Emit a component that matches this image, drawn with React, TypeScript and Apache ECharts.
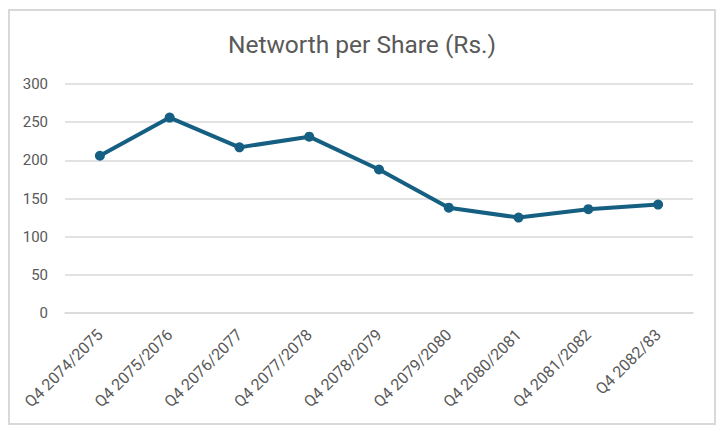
import React, { useEffect, useRef } from "react";
import * as echarts from "echarts";

const categories = [
  "Q4 2074/2075",
  "Q4 2075/2076",
  "Q4 2076/2077",
  "Q4 2077/2078",
  "Q4 2078/2079",
  "Q4 2079/2080",
  "Q4 2080/2081",
  "Q4 2081/2082",
  "Q4 2082/83",
];
const networth = [206, 256, 217, 231, 188, 138, 125, 136, 142];
const yTicks = { min: 0, max: 300, interval: 50 };

export default function App() {
  const ref = useRef<HTMLDivElement>(null);
  useEffect(() => {
    if (!ref.current) return;
    const chart = echarts.init(ref.current, null, { renderer: "svg" });
    chart.setOption({
      animation: false,
      backgroundColor: "#ffffff",
      title: {
        text: "Networth per Share (Rs.)",
        left: "center",
        top: 27,
        textStyle: {
          fontFamily: "Roboto",
          fontSize: 24.5,
          fontWeight: "normal",
          color: "#595959",
        },
      },
      graphic: [
        {
          type: "rect",
          shape: { x: 9, y: 10, width: 706, height: 414 },
          style: { fill: "none", stroke: "#d9d9d9", lineWidth: 2 },
          z: 100,
        },
      ],
      grid: { left: 65, right: 31, top: 84, bottom: 119 },
      xAxis: {
        type: "category",
        data: categories,
        boundaryGap: true,
        axisLine: { show: true, lineStyle: { color: "#d9d9d9", width: 1.5 } },
        axisTick: { show: false },
        axisLabel: {
          rotate: 45,
          margin: 19,
          interval: 0,
          fontFamily: "Roboto",
          fontSize: 16,
          color: "#595959",
        },
      },
      yAxis: {
        type: "value",
        min: yTicks.min,
        max: yTicks.max,
        interval: yTicks.interval,
        axisLine: { show: false },
        axisTick: { show: false },
        splitLine: { lineStyle: { color: "#d9d9d9", width: 1.5 } },
        axisLabel: {
          margin: 17,
          fontFamily: "Roboto",
          fontSize: 15,
          color: "#595959",
        },
      },
      series: [
        {
          type: "line",
          data: networth,
          symbol: "circle",
          symbolSize: 10,
          lineStyle: { color: "#156082", width: 4 },
          itemStyle: { color: "#156082" },
        },
      ],
    });
    return () => chart.dispose();
  }, []);
  return (
    <div
      ref={ref}
      style={{ position: "absolute", left: 0, top: 0, width: 724, height: 432 }}
    />
  );
}
